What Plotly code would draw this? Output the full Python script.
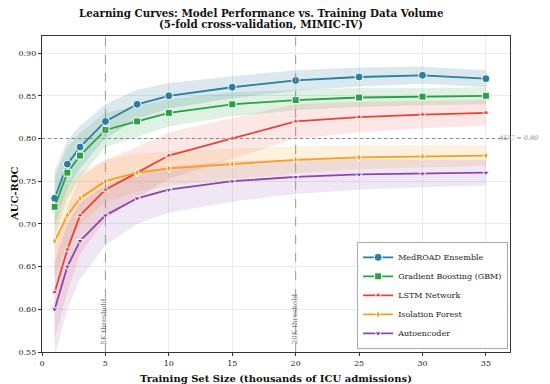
import plotly.graph_objects as go

x_k = [1, 2, 3, 5, 7.5, 10, 15, 20, 25, 30, 35]

names = ["MedROAD Ensemble", "Gradient Boosting (GBM)", "LSTM Network", "Isolation Forest", "Autoencoder"]
medroad = [0.73, 0.77, 0.79, 0.82, 0.84, 0.85, 0.86, 0.868, 0.872, 0.874, 0.870]
gbm = [0.72, 0.76, 0.78, 0.81, 0.82, 0.83, 0.84, 0.845, 0.848, 0.849, 0.850]
lstm = [0.62, 0.67, 0.71, 0.74, 0.76, 0.78, 0.80, 0.82, 0.825, 0.828, 0.830]
iforest = [0.68, 0.71, 0.73, 0.75, 0.76, 0.765, 0.77, 0.775, 0.778, 0.779, 0.780]
autoenc = [0.60, 0.65, 0.68, 0.71, 0.73, 0.74, 0.75, 0.755, 0.758, 0.759, 0.760]

medroad_sd = [0.032, 0.028, 0.025, 0.02, 0.017, 0.015, 0.013, 0.012, 0.011, 0.01, 0.01]
gbm_sd = [0.035, 0.03, 0.026, 0.02, 0.018, 0.016, 0.014, 0.012, 0.011, 0.01, 0.01]
lstm_sd = [0.055, 0.05, 0.045, 0.035, 0.03, 0.027, 0.024, 0.02, 0.018, 0.016, 0.015]
iforest_sd = [0.04, 0.035, 0.03, 0.025, 0.022, 0.02, 0.018, 0.016, 0.014, 0.013, 0.012]
autoenc_sd = [0.055, 0.05, 0.045, 0.035, 0.03, 0.027, 0.024, 0.02, 0.018, 0.016, 0.015]

colors = ["#2a7ea0", "#27a243", "#e8433a", "#f5a01c", "#8e44ad"]
fills = ["rgba(42,126,160,0.17)", "rgba(39,162,67,0.15)", "rgba(232,67,58,0.13)",
         "rgba(245,160,28,0.15)", "rgba(142,68,173,0.13)"]
symbols = ["circle", "square", "triangle-up", "diamond-tall", "triangle-down"]
sizes = [8, 7, 6, 6, 6]

series = [medroad, gbm, lstm, iforest, autoenc]
sds = [medroad_sd, gbm_sd, lstm_sd, iforest_sd, autoenc_sd]

thresholds = [5, 20]
threshold_labels = ["5K threshold", "20K threshold"]
ref_auc = 0.80

title_line1 = "Learning Curves: Model Performance vs. Training Data Volume"
title_line2 = "(5-fold cross-validation, MIMIC-IV)"

FONT = "DejaVu Serif"
fig = go.Figure()

for i in range(len(names)):
    up = [v + s for v, s in zip(series[i], sds[i])]
    lo = [v - s for v, s in zip(series[i], sds[i])]
    fig.add_trace(go.Scatter(x=x_k + x_k[::-1], y=up + lo[::-1], fill="toself",
                             fillcolor=fills[i], line=dict(width=0), hoverinfo="skip",
                             showlegend=False))

for i in range(len(names)):
    fig.add_trace(go.Scatter(x=x_k, y=series[i], mode="lines+markers", name=names[i],
                             line=dict(color=colors[i], width=1.8),
                             marker=dict(symbol=symbols[i], size=sizes[i], color=colors[i],
                                         line=dict(color="white", width=1))))

for t, lab in zip(thresholds, threshold_labels):
    fig.add_shape(type="line", x0=t, x1=t, y0=0, y1=1, yref="paper",
                  line=dict(color="#999999", width=1, dash="dash"))
    fig.add_annotation(x=t, y=0.557, text=lab, textangle=-90, showarrow=False,
                       xanchor="center", yanchor="bottom", xshift=-1,
                       font=dict(family=FONT, size=7, color="#777777"))

fig.add_shape(type="line", x0=0, x1=1, xref="paper", y0=ref_auc, y1=ref_auc,
              line=dict(color="#888888", width=1, dash="dot"))
fig.add_annotation(x=35.9, y=ref_auc, text="<i>AUC = 0.80</i>", showarrow=False,
                   xanchor="left", yanchor="middle", borderpad=0,
                   font=dict(family=FONT, size=6.5, color="#888888"))

# title (two lines) and y-axis title
fig.add_annotation(xref="paper", yref="paper", x=0.468, y=1 + 23 / 316, text="<b>" + title_line1 + "</b>",
                   showarrow=False, xanchor="center", yanchor="middle",
                   font=dict(family=FONT, size=10.3, color="#111111"))
fig.add_annotation(xref="paper", yref="paper", x=0.468, y=1 + 12 / 316, text="<b>" + title_line2 + "</b>",
                   showarrow=False, xanchor="center", yanchor="middle",
                   font=dict(family=FONT, size=10.3, color="#111111"))
fig.add_annotation(xref="paper", yref="paper", x=-28 / 468, y=0.5, text="<b>AUC-ROC</b>",
                   showarrow=False, xanchor="center", yanchor="middle", textangle=-90,
                   font=dict(family=FONT, size=10, color="#111111"))

fig.update_layout(
    width=542, height=376,
    margin=dict(l=34, r=40, t=28, b=32, autoexpand=False),
    paper_bgcolor="white", plot_bgcolor="white",
    font=dict(family=FONT, size=8, color="#222222"),
    legend=dict(x=0.996, y=0.01, xanchor="right", yanchor="bottom",
                bgcolor="rgba(255,255,255,0.9)", bordercolor="#aaaaaa", borderwidth=1,
                font=dict(family=FONT, size=8), tracegroupgap=0, itemwidth=30,
                itemsizing="trace"),
    xaxis=dict(range=[0, 36.9], tickvals=[0, 5, 10, 15, 20, 25, 30, 35],
               showgrid=True, gridcolor="#ebebeb", zeroline=False, automargin=False,
               showline=True, linecolor="#333333", linewidth=1.2, mirror=True,
               ticks="outside", ticklen=3, tickcolor="#333333",
               tickfont=dict(family=FONT, size=8, color="#222222"),
               title=dict(text="<b>Training Set Size (thousands of ICU admissions)</b>",
                          font=dict(family=FONT, size=10, color="#111111"))),
    yaxis=dict(range=[0.55, 0.92], tickvals=[0.55, 0.60, 0.65, 0.70, 0.75, 0.80, 0.85, 0.90],
               tickformat=".2f", automargin=False,
               showgrid=True, gridcolor="#ebebeb", zeroline=False,
               showline=True, linecolor="#333333", linewidth=1.2, mirror=True,
               ticks="outside", ticklen=3, tickcolor="#333333",
               tickfont=dict(family=FONT, size=8, color="#222222")),
)

fig.write_html("out.html")
